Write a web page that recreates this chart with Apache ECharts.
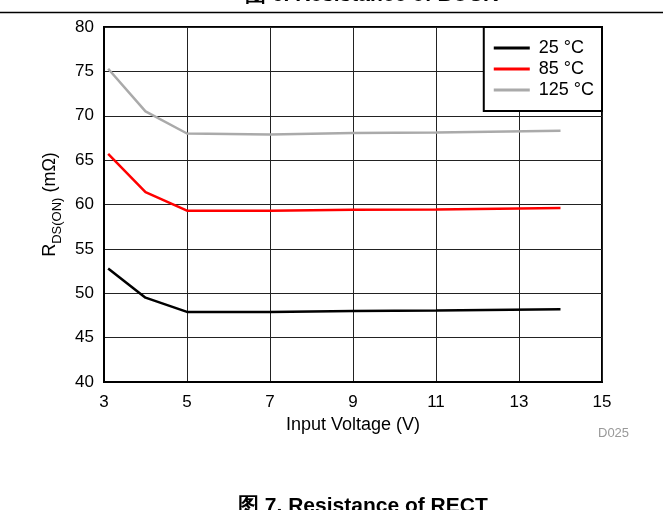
<!DOCTYPE html>
<html><head><meta charset="utf-8">
<script src="https://cdn.jsdelivr.net/npm/echarts@6/dist/echarts.min.js"></script>
<style>html,body{margin:0;padding:0;background:#fff}#c{width:663px;height:510px}</style>
</head><body><div id="c"></div>
<script>
const voltage = [3.1, 4, 5, 7, 9, 11, 14];
const r25 = [52.8, 49.5, 47.9, 47.9, 48.0, 48.05, 48.2];
const r85 = [65.7, 61.4, 59.3, 59.3, 59.4, 59.45, 59.6];
const r125 = [75.3, 70.5, 68.0, 67.9, 68.05, 68.1, 68.3];
const seriesNames = ['25 °C', '85 °C', '125 °C'];
const xTicks = [3, 5, 7, 9, 11, 13, 15];
const yTicks = [40, 45, 50, 55, 60, 65, 70, 75, 80];

const F = 'Liberation Sans, Arial, sans-serif';
const chart = echarts.init(document.getElementById('c'), null, {renderer: 'canvas'});
function pairs(ys){ return voltage.map((v,i)=>[v, ys[i]]); }
const colors = ['#000000', '#ff0000', '#aaaaaa'];
chart.setOption({
  animation: false,
  backgroundColor: '#fff',
  grid: {left: 104, right: 61, top: 27, bottom: 128, show: true, borderColor: '#000', borderWidth: 2},
  xAxis: {
    type: 'value', min: xTicks[0], max: xTicks[xTicks.length-1], interval: 2,
    axisLine: {show: true, lineStyle: {color: '#000', width: 2}},
    axisTick: {show: false},
    axisLabel: {color: '#000', fontSize: 17, fontFamily: F, margin: 12},
    splitLine: {show: true, lineStyle: {color: '#222', width: 1}},
    name: 'Input Voltage (V)', nameLocation: 'middle', nameGap: 33,
    nameTextStyle: {color: '#000', fontSize: 18, fontFamily: F}
  },
  yAxis: {
    type: 'value', min: yTicks[0], max: yTicks[yTicks.length-1], interval: 5,
    axisLine: {show: true, lineStyle: {color: '#000', width: 2}},
    axisTick: {show: false},
    axisLabel: {color: '#000', fontSize: 17, fontFamily: F, margin: 10},
    splitLine: {show: true, lineStyle: {color: '#222', width: 1}},
    name: '{a|R}{b|DS(ON)}{a| (mΩ)}', nameLocation: 'middle', nameGap: 41, nameRotate: 90,
    nameTextStyle: {color: '#000', fontFamily: F,
      rich: {a: {fontSize: 18, fontFamily: F, color: '#000', verticalAlign: 'bottom'},
             b: {fontSize: 13, fontFamily: F, color: '#000', verticalAlign: 'bottom', padding: [0,0,-5,0]}}}
  },
  legend: {
    data: seriesNames, orient: 'vertical', right: 61, top: 27,
    backgroundColor: '#fff', borderColor: '#000', borderWidth: 2,
    padding: [12, 8, 12, 10], itemGap: 3,
    itemWidth: 36, itemHeight: 3, icon: 'rect',
    textStyle: {color: '#000', fontSize: 18, fontFamily: F, padding: [0,0,0,4]}
  },
  series: [
    {name: seriesNames[0], type: 'line', data: pairs(r25), showSymbol: false, lineStyle: {color: colors[0], width: 2.5}, itemStyle: {color: colors[0]}},
    {name: seriesNames[1], type: 'line', data: pairs(r85), showSymbol: false, lineStyle: {color: colors[1], width: 2.5}, itemStyle: {color: colors[1]}},
    {name: seriesNames[2], type: 'line', data: pairs(r125), showSymbol: false, lineStyle: {color: colors[2], width: 2.5}, itemStyle: {color: colors[2]}}
  ],
  graphic: [
    {type: 'line', shape: {x1: 0, y1: 12.5, x2: 663, y2: 12.5}, style: {stroke: '#000', lineWidth: 1.5}},
    {type: 'text', x: 245, y: -15, style: {text: '图 6. Resistance of BUCK', font: 'bold 21px ' + F, fill: '#000', verticalAlign: 'top'}},
    {type: 'text', x: 598, y: 427, style: {text: 'D025', font: '13px ' + F, fill: '#999'}},
    {type: 'text', x: 238, y: 496, style: {text: '图 7. Resistance of RECT', font: 'bold 21px ' + F, fill: '#000', verticalAlign: 'top'}}
  ]
});
</script></body></html>
